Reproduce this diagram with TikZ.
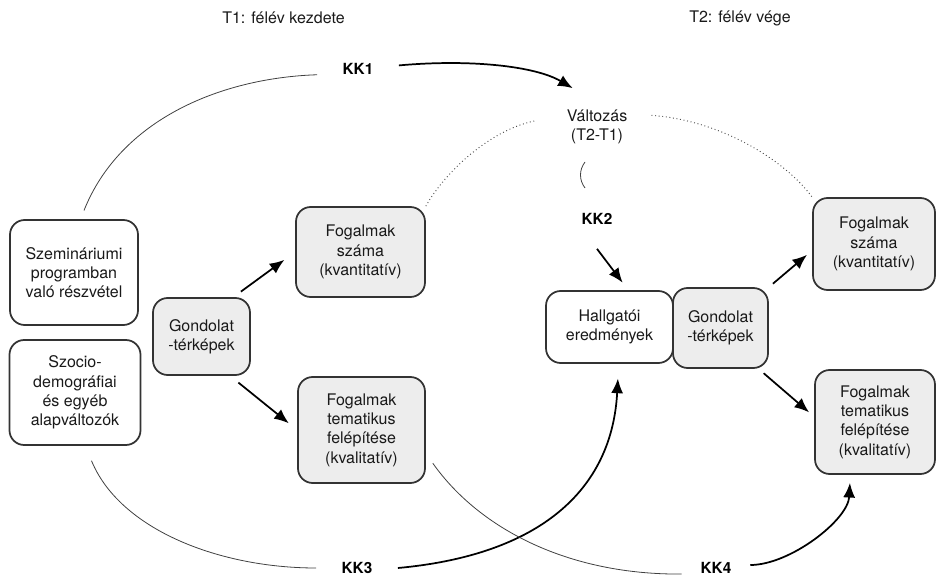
\documentclass[tikz,border=0pt]{standalone}
\usepackage{fontspec}
\setmainfont{TeX Gyre Heros}
\usepackage{tikz}
\usetikzlibrary{arrows.meta}

\begin{document}
\begin{tikzpicture}[x=0.75pt, y=-0.75pt, font=\fontsize{12}{14.5}\selectfont, text=black!90,
	main_box/.style={draw=black!80, line width=1.3pt, rounded corners=11pt, align=center, inner sep=2pt},
	grey_box/.style={main_box, fill=black!7},
	kk_node/.style={font=\fontsize{11.5}{14}\selectfont\bfseries, text=black, inner xsep=19pt, inner ysep=3pt},
	arrow_line/.style={-{Latex[length=11pt,width=9pt]}, line width=1.3pt, draw=black},
	thin_line/.style={line width=0.6pt, draw=black!75},
	dot_line/.style={dotted, line width=0.7pt, draw=black!70}]

	\useasboundingbox (0,0) rectangle (936,577);

	\node[main_box, minimum width=96pt, minimum height=78.75pt] (1) at (74,272.5) {Szemináriumi\\programban\\való részvétel};
	\node[main_box, minimum width=98.25pt, minimum height=78.75pt] (2) at (75,392.5) {Szocio-\\demográfiai\\és egyéb\\alapváltozók};
	\node[grey_box, minimum width=72.75pt, minimum height=57.75pt] (3) at (201.5,336.5) {Gondolat\\-térképek};
	\node[grey_box, minimum width=96.75pt, minimum height=67.5pt] (4) at (360.5,252) {Fogalmak\\száma\\(kvantitatív)};
	\node[grey_box, minimum width=95.25pt, minimum height=79.5pt] (5) at (361.5,430) {Fogalmak\\tematikus\\felépítése\\(kvalitatív)};
	\node[main_box, minimum width=95.25pt, minimum height=54pt] (6) at (609.5,327) {Hallgatói\\eredmények};
	\node[grey_box, minimum width=71.25pt, minimum height=60pt] (7) at (720.5,328) {Gondolat\\-térképek};
	\node[grey_box, minimum width=91.5pt, minimum height=69pt] (8) at (874,244) {Fogalmak\\száma\\(kvantitatív)};
	\node[grey_box, minimum width=90pt, minimum height=78pt] (9) at (875,422) {Fogalmak\\tematikus\\felépítése\\(kvalitatív)};

	\node[align=center, inner xsep=18pt, inner ysep=16pt] (10) at (597,127) {Változás\\(T2-T1)};
	\node[kk_node] (11) at (358,69) {KK1};
	\node[kk_node, inner xsep=3pt, inner ysep=18pt] (12) at (597,219) {KK2};
	\node[kk_node] (13) at (357,568) {KK3};
	\node[kk_node, inner xsep=14pt] (14) at (716,568) {KK4};

	\node (15) at (283.5,18) {T1: félév kezdete};
	\node (16) at (740,18) {T2: félév vége};

	\coordinate (17) at (585,162);
	\coordinate (18) at (585,188);

	% KK1
	\draw[thin_line, shorten <=7pt] (1.83) .. controls (120,120) and (220,78) .. (11.188);
	\draw[arrow_line] (11.5) .. controls (470,59) and (535,66) .. (10.122);

	% valtozas
	\draw[dot_line, shorten >=6pt] (4.north east) .. controls (445,172) and (490,130) .. (10.172);
	\draw[dot_line] (10.12) .. controls (720,120) and (785,160) .. (8.north west);
	\draw[thin_line] (17) .. controls (579,170) and (579,180) .. (18);

	% KK2
	\draw[arrow_line, shorten >=7pt] (12.south) -- (6.63);

	\draw[arrow_line, shorten <=7pt, shorten >=10pt] (3.51) -- (4.west);
	\draw[arrow_line, shorten <=8pt, shorten >=8pt] (3.-54) -- (5.west);
	\draw[arrow_line, shorten <=4pt, shorten >=5pt] (7.north east) -- (8.186);
	\draw[arrow_line, shorten <=5pt, shorten >=5pt] (7.-47) -- (9.175);

	% KK3
	\draw[thin_line, shorten <=12pt] (2.-79) .. controls (120,530) and (220,568) .. (13.west);
	\draw[arrow_line, shorten >=11pt] (13.east) .. controls (540,555) and (612,490) .. (6.-76);

	% KK4
	\draw[thin_line, shorten <=9pt] (5.-20) .. controls (480,530) and (570,575) .. (14.190);
	\draw[arrow_line, shorten >=6pt] (14.5) .. controls (790,565) and (848,520) .. (9.-115);

\end{tikzpicture}
\end{document}
